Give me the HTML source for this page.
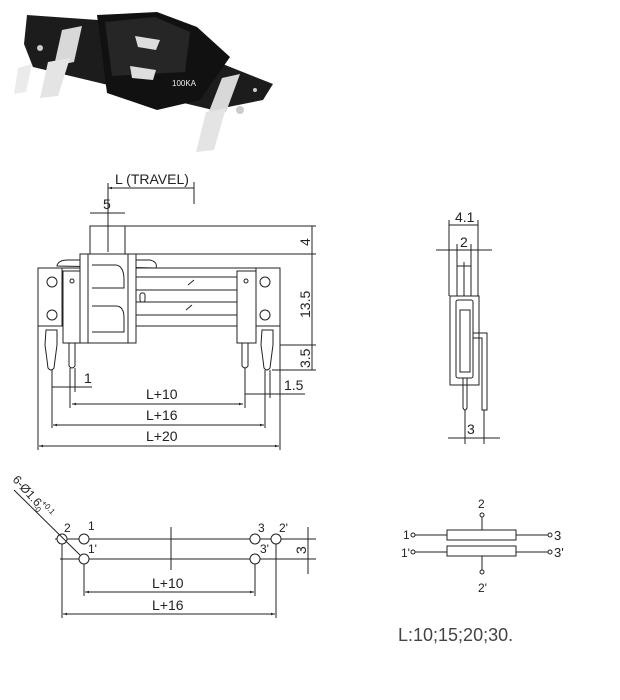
<!DOCTYPE html>
<html><head><meta charset="utf-8"><style>
html,body{margin:0;padding:0;background:#fff;}
svg{display:block;}
text{font-family:"Liberation Sans",sans-serif;fill:#222;}
</style></head><body>
<svg width="620" height="700" viewBox="0 0 620 700" xmlns="http://www.w3.org/2000/svg">
<defs>
<marker id="a" viewBox="0 0 10 10" refX="10" refY="5" markerWidth="6" markerHeight="4" orient="auto-start-reverse"><path d="M0,2 L10,5 L0,8z" fill="#222"/></marker>
</defs>
<!-- photo -->
<g>
<polygon points="27,15 98,20 200,55 273,84 263,100 213,110 150,95 33,67 24,44" fill="#1c1c1c"/>
<polygon points="97,15 157,12 197,27 230,57 200,100 157,110 107,93 104,70" fill="#111"/>
<polygon points="105,22 155,17 190,32 185,72 112,76" fill="#262626"/>
<path d="M135,36 L160,40 L156,50 L138,47z M130,66 L156,70 L153,80 L132,78z" fill="#ddd"/>
<text x="172" y="86" font-size="8" style="fill:#eee">100KA</text>
<polygon points="62,30 82,26 74,62 54,66" fill="#d8d8d8"/>
<polygon points="48,62 70,58 58,96 40,98" fill="#e4e4e4"/>
<polygon points="18,68 32,64 26,92 14,94" fill="#ebebeb"/>
<polygon points="222,78 240,74 226,112 208,114" fill="#d8d8d8"/>
<polygon points="206,112 226,108 214,150 196,152" fill="#e4e4e4"/>
<circle cx="40" cy="48" r="3" fill="#ccc"/><circle cx="240" cy="110" r="4" fill="#ccc"/><circle cx="255" cy="90" r="2" fill="#ccc"/>
</g>
<g stroke="#222" stroke-width="1" fill="none">
<!-- main view -->
<line x1="108" y1="188" x2="194" y2="188" marker-start="url(#a)"/>
<line x1="194" y1="182" x2="194" y2="204"/>
<line x1="108" y1="183" x2="108" y2="252"/>
<line x1="90" y1="213" x2="125" y2="213"/>
<rect x="90" y="226" width="35" height="28"/>
<line x1="125" y1="226" x2="316" y2="226"/>
<line x1="136" y1="254" x2="316" y2="254"/>
<line x1="312" y1="226" x2="312" y2="345"/>
<line x1="280" y1="345" x2="316" y2="345"/>
<line x1="272" y1="370" x2="316" y2="370"/>
<line x1="312" y1="345" x2="312" y2="370"/>
<path d="M57,266 Q58,260 68,260 L150,260 Q158,262 156,268 Z"/>
<rect x="38" y="268" width="242" height="58"/>
<rect x="80" y="254" width="56" height="89" fill="#fff"/>
<line x1="88" y1="254" x2="88" y2="343"/><line x1="128" y1="254" x2="128" y2="343"/>
<rect x="63" y="271" width="17" height="72" fill="#fff"/>
<rect x="237" y="271" width="19" height="72" fill="#fff"/>
<line x1="62" y1="268" x2="62" y2="326"/><line x1="256" y1="268" x2="256" y2="326"/>
<line x1="136" y1="277" x2="237" y2="277"/><line x1="136" y1="290" x2="237" y2="290"/>
<line x1="136" y1="302" x2="237" y2="302"/><line x1="136" y1="315" x2="237" y2="315"/>
<line x1="188" y1="285" x2="194" y2="280"/><line x1="186" y1="310" x2="192" y2="305"/>
<rect x="140" y="293" width="5" height="9" rx="2"/>
<path d="M92,265 L116,265 Q124,266 124,280 L124,288 L92,288 M92,306 L116,306 Q124,306 124,318 L124,332 L92,332"/>
<circle cx="52" cy="282" r="5"/><circle cx="52" cy="315" r="5"/>
<circle cx="265" cy="282" r="5"/><circle cx="265" cy="315" r="5"/>
<circle cx="72" cy="281" r="2"/><circle cx="246" cy="281" r="2"/>
<path d="M46,330 L57,330 L57,345 L55,360 L54,368 Q51,372 48,368 L47,360 L45,345 Z"/>
<path d="M262,330 L273,330 L273,345 L271,360 L270,368 Q267,372 264,368 L263,360 L261,345 Z"/>
<path d="M69,343 L69,366 Q72,370 75,366 L75,343"/>
<path d="M242,343 L242,366 Q245,370 248,366 L248,343"/>
<line x1="52" y1="370" x2="52" y2="428"/><line x1="70" y1="368" x2="70" y2="408"/><line x1="75" y1="368" x2="75" y2="392"/>
<line x1="245" y1="368" x2="245" y2="408"/><line x1="265" y1="370" x2="265" y2="428"/><line x1="270" y1="370" x2="270" y2="398"/>
<line x1="38" y1="326" x2="38" y2="450"/><line x1="280" y1="326" x2="280" y2="450"/>
<line x1="52" y1="387" x2="92" y2="387"/>
<line x1="245" y1="394" x2="305" y2="394"/>
<line x1="72" y1="404" x2="243" y2="404" marker-start="url(#a)" marker-end="url(#a)"/>
<line x1="53" y1="425" x2="264" y2="425" marker-start="url(#a)" marker-end="url(#a)"/>
<line x1="39" y1="446" x2="279" y2="446" marker-start="url(#a)" marker-end="url(#a)"/>
<!-- side view -->
<line x1="449" y1="225" x2="478" y2="225"/>
<line x1="449" y1="220" x2="449" y2="296"/><line x1="478" y1="220" x2="478" y2="296"/>
<line x1="436" y1="250" x2="492" y2="250"/>
<line x1="457" y1="244" x2="457" y2="266"/><line x1="471" y1="244" x2="471" y2="266"/>
<rect x="457" y="266" width="14" height="30"/>
<line x1="464" y1="262" x2="464" y2="296"/>
<rect x="450" y="296" width="29" height="89"/>
<rect x="456" y="300" width="17" height="78" rx="2"/>
<rect x="460" y="310" width="10" height="62"/>
<path d="M473,333 L487,333 L487,410 L482,410 L482,338 L473,338"/>
<path d="M463,378 L463,408 Q465,412 467,408 L467,378"/>
<line x1="465" y1="410" x2="465" y2="444"/><line x1="484" y1="410" x2="484" y2="444"/>
<line x1="448" y1="438" x2="500" y2="438"/>
<!-- footprint -->
<line x1="55" y1="539" x2="316" y2="539"/><line x1="60" y1="559" x2="316" y2="559"/>
<line x1="171" y1="527" x2="171" y2="570"/>
<line x1="308" y1="527" x2="308" y2="574"/>
<circle cx="62" cy="539" r="5" fill="#fff"/><circle cx="84" cy="539" r="5" fill="#fff"/><circle cx="84" cy="559" r="5" fill="#fff"/>
<circle cx="255" cy="539" r="5" fill="#fff"/><circle cx="255" cy="559" r="5" fill="#fff"/><circle cx="276" cy="539" r="5" fill="#fff"/>
<line x1="14" y1="490" x2="80" y2="555"/>
<line x1="84" y1="564" x2="84" y2="596"/><line x1="255" y1="564" x2="255" y2="596"/>
<line x1="62" y1="544" x2="62" y2="618"/><line x1="276" y1="544" x2="276" y2="618"/>
<line x1="85" y1="592" x2="254" y2="592" marker-start="url(#a)" marker-end="url(#a)"/>
<line x1="63" y1="614" x2="275" y2="614" marker-start="url(#a)" marker-end="url(#a)"/>
<!-- schematic -->
<rect x="447" y="530" width="69" height="10"/><rect x="447" y="546" width="69" height="10"/>
<line x1="415" y1="535" x2="447" y2="535"/><line x1="516" y1="535" x2="548" y2="535"/>
<line x1="415" y1="552" x2="447" y2="552"/><line x1="516" y1="552" x2="548" y2="552"/>
<circle cx="413" cy="535" r="2"/><circle cx="550" cy="535" r="2"/>
<circle cx="413" cy="552" r="2"/><circle cx="550" cy="552" r="2"/>
<line x1="482" y1="517" x2="482" y2="530"/><circle cx="482" cy="515" r="2"/>
<line x1="482" y1="556" x2="482" y2="570"/><circle cx="482" cy="572" r="2"/>
</g>
<g font-size="14">
<text x="115" y="184">L (TRAVEL)</text>
<text x="103" y="209">5</text>
<text x="0" y="0" transform="translate(310,246) rotate(-90)">4</text>
<text x="0" y="0" transform="translate(310,318) rotate(-90)">13.5</text>
<text x="0" y="0" transform="translate(310,368) rotate(-90)">3.5</text>
<text x="84" y="383">1</text>
<text x="284" y="390">1.5</text>
<text x="146" y="399">L+10</text>
<text x="146" y="420">L+16</text>
<text x="146" y="441">L+20</text>
<text x="455" y="222">4.1</text>
<text x="460" y="247">2</text>
<text x="467" y="434">3</text>
<text x="0" y="0" transform="translate(306,554) rotate(-90)">3</text>
<text x="152" y="588">L+10</text>
<text x="152" y="610">L+16</text>
<text x="0" y="0" font-size="12" transform="translate(12,480) rotate(48)">6-Ø1.6<tspan font-size="8" dy="-6">+0.1</tspan><tspan font-size="8" dx="-18" dy="9">-0</tspan></text>
<text x="64" y="532" font-size="12">2</text>
<text x="88" y="530" font-size="12">1</text>
<text x="88" y="553" font-size="12">1'</text>
<text x="258" y="532" font-size="12">3</text>
<text x="279" y="532" font-size="12">2'</text>
<text x="260" y="553" font-size="12">3'</text>
<text x="403" y="539" font-size="12">1</text><text x="554" y="540" font-size="13">3</text>
<text x="401" y="557" font-size="12">1'</text><text x="554" y="557" font-size="13">3'</text>
<text x="478" y="508" font-size="12">2</text><text x="478" y="592" font-size="12">2'</text>
<text x="398" y="641" font-size="18" style="fill:#444">L:10;15;20;30.</text>
</g>
</svg>
</body></html>
